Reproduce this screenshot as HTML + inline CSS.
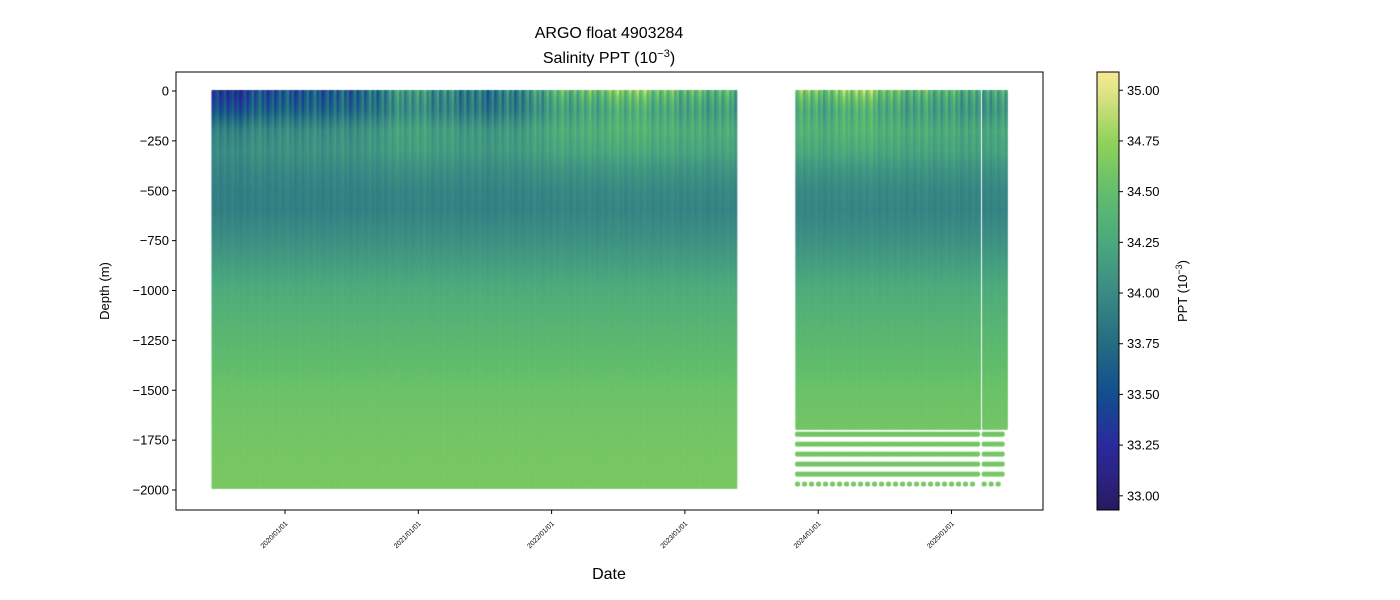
<!DOCTYPE html>
<html><head><meta charset="utf-8"><style>
body{margin:0;background:#fff;width:1400px;height:600px;overflow:hidden;font-family:"Liberation Sans","DejaVu Sans",sans-serif;}
#wrap{position:relative;width:1400px;height:600px;}
canvas{position:absolute;left:0;top:0;}
svg{position:absolute;left:0;top:0;}
</style></head><body>
<div id="wrap">
<canvas id="cv" width="1400" height="600"></canvas>
<svg id="sv" width="1400" height="600"></svg>
</div>
<script>
// ---- data ----
const depthLevels = [0, -50, -100, -150, -200, -300, -400, -500, -600, -750, -1000, -1250, -1500, -1750, -2000];
const meanProfile = [33.75, 33.75, 33.8, 33.95, 34.08, 34.1, 34.0, 33.94, 33.93, 34.05, 34.3, 34.43, 34.55, 34.6, 34.62];
const surfaceTimes = [2019.45, 2019.6, 2019.75, 2020.0, 2020.3, 2020.6, 2020.9, 2021.2, 2021.5, 2021.8, 2022.0, 2022.3, 2022.6, 2022.9, 2023.2, 2023.38, 2023.83, 2024.0, 2024.3, 2024.6, 2024.9, 2025.2, 2025.4];
const surfaceSal = [33.45, 33.2, 33.5, 33.55, 33.6, 33.7, 34.2, 34.0, 33.8, 34.0, 34.4, 34.5, 34.7, 34.5, 34.4, 34.4, 34.75, 34.5, 34.8, 34.45, 34.4, 34.3, 34.25];
const segments = [[2019.45, 2023.38, -1985], [2023.83, 2025.21, -1690], [2025.23, 2025.40, -1690]];
const dotRowDepths = [-1720, -1770, -1820, -1870, -1920, -1970];
const yTicks = [0, -250, -500, -750, -1000, -1250, -1500, -1750, -2000];
const xTickYears = [2020, 2021, 2022, 2023, 2024, 2025];
const xTickLabels = ["2020/01/01", "2021/01/01", "2022/01/01", "2023/01/01", "2024/01/01", "2025/01/01"];
const cbTicks = [33.0, 33.25, 33.5, 33.75, 34.0, 34.25, 34.5, 34.75, 35.0];

// ---- scales ----
const PL=176, PR=1043, PT=72, PB=510;
const xS = t => 285 + (t-2020)*133.3;
const yS = d => 91 - d*0.1995;
const CB0=32.93, CB1=35.09, CBT=72, CBB=510;
const cS = v => CBB - (v-CB0)/(CB1-CB0)*(CBB-CBT);
const cmapV=[32.93,33.0,33.25,33.5,33.75,34.0,34.25,34.5,34.75,35.0,35.09];
const cmapC=[[40,24,92],[42,30,110],[42,42,158],[18,78,143],[36,108,130],[58,138,132],[74,168,126],[98,190,108],[146,210,90],[226,228,136],[246,232,144]];
function cmap(v){
  v=Math.max(cmapV[0],Math.min(cmapV[cmapV.length-1],v));
  for(let i=0;i<cmapV.length-1;i++){ if(v<=cmapV[i+1]){const f=(v-cmapV[i])/(cmapV[i+1]-cmapV[i]);const a=cmapC[i],b=cmapC[i+1];
    return `rgb(${Math.round(a[0]+(b[0]-a[0])*f)},${Math.round(a[1]+(b[1]-a[1])*f)},${Math.round(a[2]+(b[2]-a[2])*f)})`;}}
}
function interp(xs,ys,x){ if(x<=xs[0])return ys[0]; for(let i=0;i<xs.length-1;i++){ if(x<=xs[i+1]){const f=(x-xs[i])/(xs[i+1]-xs[i]);return ys[i]+(ys[i+1]-ys[i])*f;}} return ys[ys.length-1];}
function salAt(t,d,k){
  let base = interp(depthLevels.map(x=>-x),meanProfile,-d);
  const surf = interp(surfaceTimes,surfaceSal,t);
  const w = Math.exp(d/180);
  const streak = ((k*37)%11-5)*(0.015*Math.exp(d/700)+0.05*Math.exp(d/150));
  return base + (surf-meanProfile[0])*w + streak;
}
// ---- draw ----
const ctx=document.getElementById('cv').getContext('2d');
segments.forEach(seg=>{
  const x0=xS(seg[0]), x1=xS(seg[1]);
  let k=0;
  for(let x=x0;x<x1;x+=2.5,k++){
    const t=seg[0]+(x-x0)/133.3;
    for(let d=0; d>seg[2]; d-=8){
      ctx.fillStyle=cmap(salAt(t,d,k));
      ctx.fillRect(x,yS(d)-1,3,yS(d-8)-yS(d)+1.5);
    }
  }
  if(seg[2]>-1800){
    dotRowDepths.forEach((dd,i)=>{
      for(let x=x0+2;x<x1-1;x+=(i==dotRowDepths.length-1?7:3)){
        ctx.fillStyle=cmap(salAt(2024,dd,0));
        ctx.beginPath();ctx.arc(x,yS(dd),2.6,0,Math.PI*2);ctx.fill();
      }
    });
  }
});
// ---- svg axes ----
const sv=document.getElementById('sv');const NS='http://www.w3.org/2000/svg';
function el(tag,attrs,txt){const e=document.createElementNS(NS,tag);for(const k in attrs)e.setAttribute(k,attrs[k]);if(txt!==undefined)e.textContent=txt;sv.appendChild(e);return e;}
let r=el('rect',{x:PL,y:PT,width:PR-PL,height:PB-PT,fill:'none',stroke:'#000','stroke-width':1});


yTicks.forEach(v=>{
  const y=yS(v);
  const l=el('line',{x1:PL-4,x2:PL,y1:y,y2:y,stroke:'#000'});
  
  
  const t=el('text',{x:PL-7,y:y+4.5,'text-anchor':'end','font-size':13},v===0?'0':'\u2212'+Math.abs(v));
  
  
});
xTickYears.forEach((yr,i)=>{
  const x=xS(yr);
  const l=el('line',{x1:x,x2:x,y1:PB,y2:PB+4,stroke:'#000'});
  
  
  const t=el('text',{x:x+3,y:PB+14,'text-anchor':'end','font-size':7,transform:`rotate(-45 ${x+3} ${PB+14})`},xTickLabels[i]);
  
  
});
// colorbar
const defs=el('defs',{});const g=document.createElementNS(NS,'linearGradient');g.setAttribute('id','cbg');g.setAttribute('x1','0');g.setAttribute('y1','1');g.setAttribute('x2','0');g.setAttribute('y2','0');defs.appendChild(g);
cmapV.forEach((v,i)=>{const s=document.createElementNS(NS,'stop');s.setAttribute('offset',(v-CB0)/(CB1-CB0));s.setAttribute('stop-color',cmap(v));g.appendChild(s);});
const cb=el('rect',{x:1097,y:CBT,width:22,height:CBB-CBT,fill:'url(#cbg)',stroke:'#000'});


cbTicks.forEach(v=>{
  const y=cS(v);
  const l=el('line',{x1:1119,x2:1123,y1:y,y2:y,stroke:'#000'});
  
  
  const t=el('text',{x:1127,y:y+4.5,'font-size':13},v.toFixed(2));
  
  
});
let t;
t=el('text',{x:1187,y:291,'text-anchor':'middle','font-size':13,transform:'rotate(-90 1187 291)'});t.innerHTML='PPT (10<tspan baseline-shift="super" font-size="9">\u22123</tspan>)';


t=el('text',{x:609,y:38,'text-anchor':'middle','font-size':16},'ARGO float 4903284');


t=el('text',{x:609,y:63,'text-anchor':'middle','font-size':16});t.innerHTML='Salinity PPT (10<tspan baseline-shift="super" font-size="11">\u22123</tspan>)';


t=el('text',{x:109,y:291,'text-anchor':'middle','font-size':13,transform:'rotate(-90 109 291)'},'Depth (m)');


t=el('text',{x:609,y:579,'text-anchor':'middle','font-size':16},'Date');


</script>
</body></html>
